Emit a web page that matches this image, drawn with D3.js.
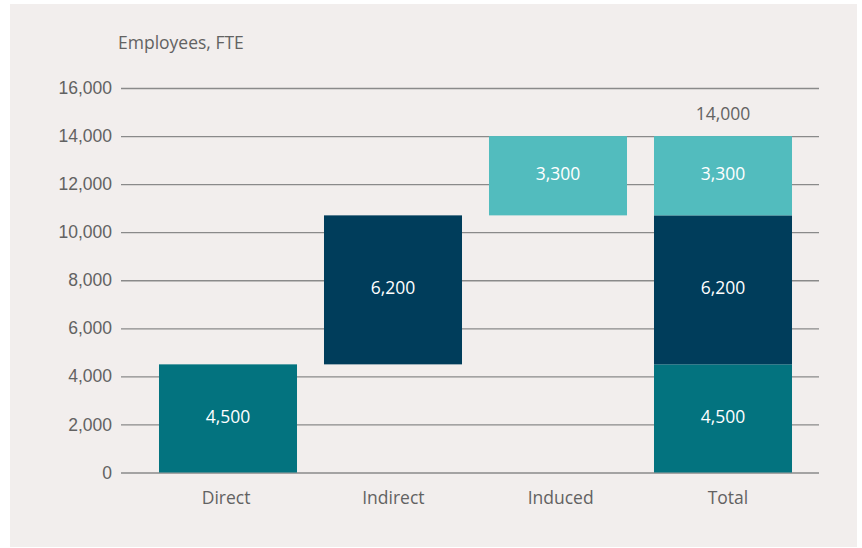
<!DOCTYPE html>
<html>
<head>
<meta charset="utf-8">
<script src="https://cdn.jsdelivr.net/npm/d3@7"></script>
<style>
  html, body { margin: 0; padding: 0; background: #ffffff; }
  svg { display: block; font-family: "Open Sans", "Noto Sans", sans-serif; }
</style>
</head>
<body>
<svg id="chart" width="862" height="548"></svg>
<script>
// Employment impact, full-time equivalents
const categories = ["Direct", "Indirect", "Induced", "Total"];
const components = ["Direct", "Indirect", "Induced"];
const componentValues = [4500, 6200, 3300];
const totalValue = 14000;
const yTicks = [0, 2000, 4000, 6000, 8000, 10000, 12000, 14000, 16000];
const yTitle = "Employees, FTE";

const colors = { Direct: "#03737f", Indirect: "#003d5b", Induced: "#52bcbe" };
const textColor = "#626262";
const fontSize = 17.5;

const svg = d3.select("#chart");

svg.append("rect")
  .attr("x", 10).attr("y", 4)
  .attr("width", 847).attr("height", 543)
  .attr("fill", "#f2eeed");

const gridLeft = 121, gridRight = 819;
const y = d3.scaleLinear().domain([0, 16000]).range([472.5, 88]);
const x = d3.scaleBand().domain(categories).range([145.5, 805.5]).paddingInner(0.1636).paddingOuter(0.0818);
// category labels sit on a slightly wider band
const xLabel = d3.scaleBand().domain(categories).range([142.4, 811.6]);

// Gridlines and tick labels
const yAxis = d3.axisLeft(y).tickValues(yTicks).tickFormat(d3.format(",")).tickSize(-(gridRight - gridLeft)).tickPadding(9);
const gy = svg.append("g").attr("transform", `translate(${gridLeft},0)`).call(yAxis);
gy.select(".domain").remove();
gy.selectAll(".tick line").attr("stroke", "#8a8a8a").attr("stroke-width", 1.3);
gy.selectAll(".tick text").attr("fill", textColor).attr("font-size", fontSize).attr("x", -9);

svg.append("text")
  .attr("x", 118).attr("y", 48.5)
  .attr("fill", textColor).attr("font-size", fontSize)
  .text(yTitle);

// Waterfall segments: each component floats on the cumulative sum before it
let running = 0;
const segments = [];
components.forEach((c, i) => {
  segments.push({ cat: c, key: c, y0: running, y1: running + componentValues[i], v: componentValues[i] });
  running += componentValues[i];
});
// Total column stacks all components
running = 0;
components.forEach((c, i) => {
  segments.push({ cat: "Total", key: c, y0: running, y1: running + componentValues[i], v: componentValues[i] });
  running += componentValues[i];
});

const bars = svg.append("g");
bars.selectAll("rect").data(segments).join("rect")
  .attr("x", d => x(d.cat))
  .attr("width", x.bandwidth())
  .attr("y", d => y(d.y1))
  .attr("height", d => y(d.y0) - y(d.y1))
  .attr("fill", d => colors[d.key]);

bars.selectAll("text").data(segments).join("text")
  .attr("x", d => x(d.cat) + x.bandwidth() / 2)
  .attr("y", d => (y(d.y0) + y(d.y1)) / 2)
  .attr("dy", "0.24em")
  .attr("text-anchor", "middle")
  .attr("fill", "#ffffff")
  .attr("font-size", fontSize)
  .text(d => d3.format(",")(d.v));

svg.append("text")
  .attr("x", x("Total") + x.bandwidth() / 2)
  .attr("y", y(totalValue) - 16.5)
  .attr("text-anchor", "middle")
  .attr("fill", textColor)
  .attr("font-size", fontSize)
  .text(d3.format(",")(totalValue));

// Category labels
svg.append("g").selectAll("text").data(categories).join("text")
  .attr("x", d => xLabel(d) + xLabel.bandwidth() / 2)
  .attr("y", 504)
  .attr("text-anchor", "middle")
  .attr("fill", textColor)
  .attr("font-size", fontSize)
  .text(d => d);
</script>
</body>
</html>
